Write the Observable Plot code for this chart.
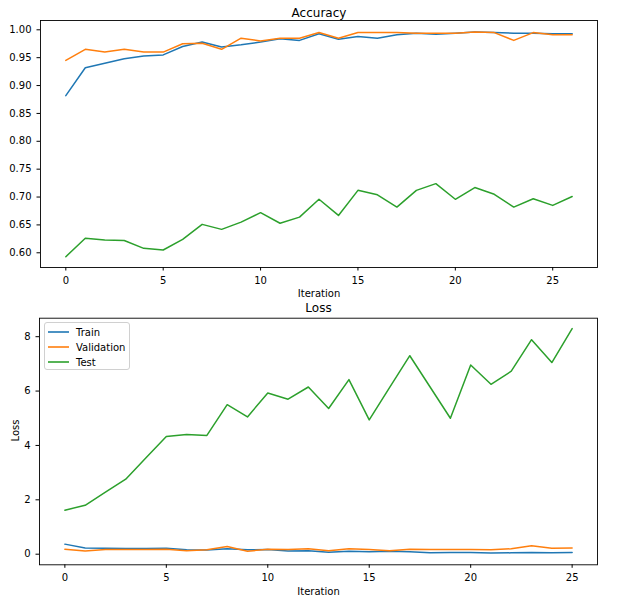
<!DOCTYPE html>
<html><head><meta charset="utf-8">
<script src="https://cdn.jsdelivr.net/npm/d3@7"></script>
<script src="https://cdn.jsdelivr.net/npm/@observablehq/plot@0.6"></script>
<style>
body{margin:0;background:#fff;font-family:"DejaVu Sans",sans-serif;}
#wrap{position:relative;width:621px;height:602px;overflow:hidden;}
#top,#bot{position:absolute;left:0;}
#top{top:0;} #bot{top:300px;}
#legend{position:absolute;left:44px;top:322px;width:86px;height:48px;border:1px solid #d0d0d0;border-radius:3px;background:rgba(255,255,255,0.8);box-sizing:border-box;font-size:10px;color:#000;}
#legend .row{position:absolute;left:3px;height:14px;display:flex;align-items:center;}
#legend svg{margin-right:7px;}
</style></head><body>
<div id="wrap"><div id="top"></div><div id="bot"></div><div id="legend"></div></div>
<script>
const seriesNames = ["Train", "Validation", "Test"];
const seriesColors = ["#1f77b4", "#ff7f0e", "#2ca02c"];

// Accuracy (top panel)
const accIter = [0,1,2,3,4,5,6,7,8,9,10,11,12,13,14,15,16,17,18,19,20,21,22,23,24,25,26];
const accTrain = [0.882,0.932,0.940,0.948,0.953,0.955,0.970,0.978,0.969,0.973,0.978,0.984,0.981,0.993,0.983,0.988,0.985,0.991,0.994,0.992,0.994,0.996,0.995,0.994,0.994,0.993,0.993];
const accVal = [0.945,0.965,0.960,0.965,0.960,0.960,0.975,0.976,0.965,0.985,0.980,0.985,0.985,0.995,0.985,0.995,0.995,0.995,0.994,0.994,0.994,0.996,0.995,0.981,0.995,0.991,0.991];
const accTest = [0.593,0.626,0.623,0.622,0.608,0.605,0.624,0.651,0.642,0.655,0.672,0.653,0.664,0.696,0.667,0.712,0.704,0.682,0.712,0.724,0.696,0.717,0.705,0.682,0.697,0.685,0.701];
const accYTicks = [0.60,0.65,0.70,0.75,0.80,0.85,0.90,0.95,1.00];

// Loss (bottom panel)
const lossIter = [0,1,2,3,4,5,6,7,8,9,10,11,12,13,14,15,16,17,18,19,20,21,22,23,24,25];
const lossTrain = [0.37,0.23,0.22,0.21,0.21,0.22,0.16,0.15,0.20,0.16,0.17,0.12,0.13,0.07,0.11,0.09,0.11,0.09,0.05,0.06,0.06,0.04,0.05,0.06,0.05,0.06];
const lossVal = [0.18,0.12,0.17,0.17,0.17,0.18,0.13,0.16,0.28,0.11,0.18,0.17,0.20,0.13,0.20,0.17,0.13,0.18,0.17,0.17,0.17,0.16,0.20,0.31,0.22,0.23];
const lossTest = [1.62,1.80,2.28,2.76,3.55,4.33,4.40,4.37,5.50,5.05,5.93,5.70,6.15,5.36,6.42,4.94,6.13,7.30,6.15,5.00,6.96,6.25,6.73,7.89,7.05,8.30];
const lossYTicks = [0,2,4,6,8];
const xTicks = [0,5,10,15,20,25];

function tidy(iter, arrs) {
  const out = [];
  arrs.forEach((arr, s) => arr.forEach((v, i) => out.push({it: iter[i], v, s: seriesNames[s]})));
  return out;
}

const baseStyle = {fontFamily: "DejaVu Sans, sans-serif", fontSize: "10px", color: "black", background: "white", overflow: "visible"};

const topChart = Plot.plot({
  width: 621, height: 300,
  marginLeft: 40, marginRight: 24, marginTop: 20, marginBottom: 33,
  style: baseStyle,
  x: {domain: [-1.3, 27.3], ticks: xTicks, tickSize: 3.5, label: null},
  y: {domain: [0.5736, 1.0167], ticks: accYTicks, tickFormat: ".2f", tickSize: 3.5, label: null},
  color: {domain: seriesNames, range: seriesColors},
  marks: [
    Plot.line(tidy(accIter, [accTrain, accVal, accTest]), {x: "it", y: "v", z: "s", stroke: "s", strokeWidth: 1.5}),
    Plot.frame({stroke: "black", strokeWidth: 0.9}),
    Plot.text(["Accuracy"], {frameAnchor: "top", dy: -12.5, fontSize: 12, fill: "black"}),
    Plot.text(["Iteration"], {frameAnchor: "bottom", dy: 29, fontSize: 10, fill: "black"})
  ]
});
document.getElementById("top").appendChild(topChart);

const botChart = Plot.plot({
  width: 621, height: 302,
  marginLeft: 39, marginRight: 24, marginTop: 17.7, marginBottom: 37.7,
  style: baseStyle,
  x: {domain: [-1.25, 26.25], ticks: xTicks, tickSize: 3.5, label: null},
  y: {domain: [-0.39, 8.68], ticks: lossYTicks, tickSize: 3.5, label: null},
  color: {domain: seriesNames, range: seriesColors},
  marks: [
    Plot.line(tidy(lossIter, [lossTrain, lossVal, lossTest]), {x: "it", y: "v", z: "s", stroke: "s", strokeWidth: 1.5}),
    Plot.frame({stroke: "black", strokeWidth: 0.9}),
    Plot.text(["Loss"], {frameAnchor: "top", dy: -14.5, fontSize: 12, fill: "black"}),
    Plot.text(["Iteration"], {frameAnchor: "bottom", dy: 30, fontSize: 10, fill: "black"}),
    Plot.text(["Loss"], {frameAnchor: "left", dx: -24, rotate: -90, fontSize: 10, fill: "black"})
  ]
});
document.getElementById("bot").appendChild(botChart);

const legend = document.getElementById("legend");
seriesNames.forEach((name, i) => {
  const row = document.createElement("div");
  row.className = "row";
  row.style.top = (2 + i * 15) + "px";
  const ns = "http://www.w3.org/2000/svg";
  const svg = document.createElementNS(ns, "svg");
  svg.setAttribute("width", "21"); svg.setAttribute("height", "6");
  const ln = document.createElementNS(ns, "line");
  ln.setAttribute("x1", "0"); ln.setAttribute("x2", "21");
  ln.setAttribute("y1", "3"); ln.setAttribute("y2", "3");
  ln.setAttribute("stroke", seriesColors[i]); ln.setAttribute("stroke-width", "1.6");
  svg.appendChild(ln);
  const t = document.createElement("span");
  t.textContent = name;
  row.appendChild(svg); row.appendChild(t);
  legend.appendChild(row);
});
</script>
</body></html>
